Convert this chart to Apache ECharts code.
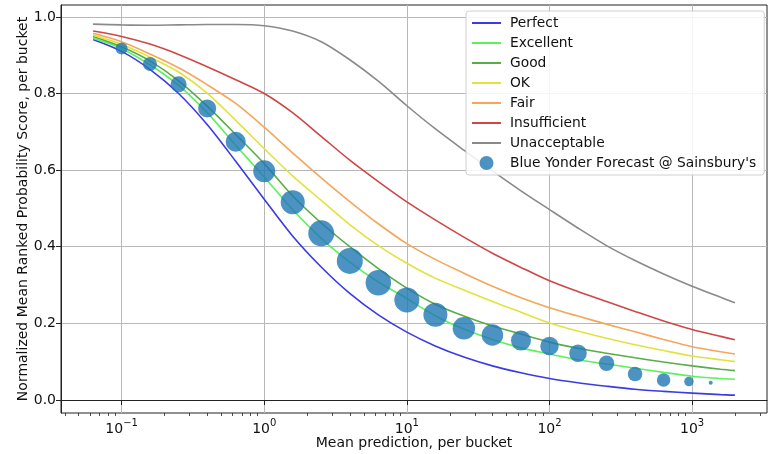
<!DOCTYPE html>
<html>
<head>
<meta charset="utf-8">
<script src="https://cdn.jsdelivr.net/npm/echarts@6/dist/echarts.min.js"></script>
<style>
html,body{margin:0;padding:0;background:#fff;}
#chart{width:772px;height:454px;}
</style>
</head>
<body>
<div id="chart"></div>
<script>
// Mean prediction grid (x) for the reference curves
const curveX = [0.0631, 0.1, 0.158, 0.251, 0.398, 0.631, 1, 1.58, 2.51, 3.98, 6.31, 10, 15.8, 25.1, 39.8, 63.1, 100, 158, 251, 398, 631, 1000, 1585, 1995];
const perfect      = [0.941, 0.910, 0.863, 0.800, 0.719, 0.623, 0.524, 0.428, 0.347, 0.278, 0.222, 0.177, 0.141, 0.112, 0.089, 0.071, 0.056, 0.045, 0.036, 0.028, 0.0225, 0.018, 0.014, 0.0126];
const excellent    = [0.944, 0.917, 0.875, 0.821, 0.750, 0.665, 0.582, 0.497, 0.422, 0.360, 0.308, 0.265, 0.220, 0.185, 0.158, 0.136, 0.120, 0.105, 0.094, 0.083, 0.072, 0.062, 0.056, 0.054];
const good         = [0.949, 0.922, 0.885, 0.833, 0.767, 0.693, 0.617, 0.533, 0.462, 0.400, 0.343, 0.292, 0.250, 0.219, 0.193, 0.172, 0.151, 0.135, 0.122, 0.110, 0.099, 0.089, 0.080, 0.0765];
const ok           = [0.953, 0.928, 0.895, 0.856, 0.801, 0.730, 0.656, 0.585, 0.521, 0.458, 0.403, 0.357, 0.318, 0.287, 0.257, 0.229, 0.201, 0.180, 0.161, 0.144, 0.129, 0.115, 0.105, 0.100];
const fair         = [0.957, 0.935, 0.903, 0.867, 0.823, 0.774, 0.712, 0.645, 0.580, 0.518, 0.460, 0.408, 0.367, 0.331, 0.297, 0.267, 0.241, 0.219, 0.198, 0.178, 0.158, 0.139, 0.126, 0.120];
const insufficient = [0.963, 0.949, 0.929, 0.902, 0.870, 0.836, 0.800, 0.750, 0.688, 0.626, 0.570, 0.517, 0.470, 0.425, 0.383, 0.346, 0.311, 0.283, 0.257, 0.231, 0.206, 0.184, 0.166, 0.157];
const unacceptable = [0.981, 0.979, 0.978, 0.979, 0.980, 0.980, 0.977, 0.963, 0.935, 0.888, 0.832, 0.768, 0.708, 0.652, 0.598, 0.546, 0.497, 0.449, 0.403, 0.364, 0.329, 0.297, 0.268, 0.254];

// Forecast buckets
const bucketX    = [0.1, 0.158, 0.251, 0.398, 0.631, 1.0, 1.585, 2.512, 3.981, 6.31, 10, 15.85, 25.12, 39.81, 63.1, 100, 158.5, 251.2, 398.1, 631, 950, 1350];
const bucketY    = [0.9175, 0.877, 0.824, 0.761, 0.674, 0.597, 0.516, 0.435, 0.363, 0.306, 0.261, 0.2226, 0.187, 0.1696, 0.155, 0.141, 0.122, 0.0957, 0.0678, 0.052, 0.048, 0.045];
const bucketSize = [12, 14, 16, 18, 20, 22, 24, 26, 26, 25.5, 25, 24, 22.5, 21.5, 20, 18.5, 17.5, 15.5, 14.5, 13.5, 9.5, 4];

// Tick values
const xMajorTicks = [0.1, 1, 10, 100, 1000];
const xMinorTicks = [0.04, 0.05, 0.06, 0.07, 0.08, 0.09, 0.2, 0.3, 0.4, 0.5, 0.6, 0.7, 0.8, 0.9, 2, 3, 4, 5, 6, 7, 8, 9, 20, 30, 40, 50, 60, 70, 80, 90, 200, 300, 400, 500, 600, 700, 800, 900, 2000, 3000];
const yTicks = [0, 0.2, 0.4, 0.6, 0.8, 1.0];

const curveNames  = ['Perfect', 'Excellent', 'Good', 'OK', 'Fair', 'Insufficient', 'Unacceptable'];
const curveData   = [perfect, excellent, good, ok, fair, insufficient, unacceptable];
const curveColors = ['#3a3ae6', '#5cf25c', '#58ad46', '#e2e23e', '#f5a65a', '#cf4646', '#8a8a8a'];
const scatterName = "Blue Yonder Forecast @ Sainsbury's";

const FONT = 'DejaVu Sans';
const FS = 14;
const chart = echarts.init(document.getElementById('chart'), null, {renderer: 'canvas'});

const series = curveNames.map((n, i) => ({
  name: n, type: 'line', xAxisIndex: 0,
  data: curveX.map((x, j) => [x, curveData[i][j]]),
  symbol: 'none', smooth: 0.3,
  lineStyle: {color: curveColors[i], width: 1.6},
  itemStyle: {color: curveColors[i]},
  z: 2
}));
series.push({
  name: scatterName, type: 'scatter', xAxisIndex: 0,
  data: bucketX.map((x, j) => [x, bucketY[j], bucketSize[j]]),
  symbolSize: d => d[2],
  itemStyle: {color: '#1f77b4', opacity: 0.8},
  z: 3
});

function powLabel(v) {
  const e = Math.round(Math.log10(v));
  const s = String(e).replace('-', '\u2212');
  return '{b|10}{s|' + s + '}';
}

const legendData = curveNames.map(n => ({name: n, itemStyle: {color: 'rgba(0,0,0,0)', borderWidth: 0, opacity: 0}}));
legendData.push({name: scatterName, icon: 'circle', itemStyle: {color: '#1f77b4', opacity: 0.8}});

chart.setOption({
  animation: false,
  backgroundColor: '#fff',
  textStyle: {fontFamily: FONT},
  grid: {left: 61, right: 5, top: 5, bottom: 41, outerBoundsMode: 'none', containLabel: false,
         show: true, borderColor: '#222', borderWidth: 1, backgroundColor: 'transparent'},
  legend: {
    orient: 'vertical', left: 466, top: 11,
    itemWidth: 29, itemHeight: 14, itemGap: 6,
    padding: [5, 8, 5, 5],
    backgroundColor: 'rgba(255,255,255,0.85)',
    borderColor: '#d0d0d0', borderWidth: 1, borderRadius: 3,
    textStyle: {fontFamily: FONT, fontSize: 13.8, color: '#111', padding: [0, 0, 0, 4]},
    data: legendData
  },
  xAxis: [{
    type: 'log', logBase: 10, min: 0.0376, max: 3350,
    name: 'Mean prediction, per bucket', nameLocation: 'middle', nameGap: 23, nameMoveOverlap: false,
    nameTextStyle: {fontFamily: FONT, fontSize: FS, color: '#111'},
    axisLine: {show: true, lineStyle: {color: '#222', width: 1}},
    axisTick: {show: true, length: 5, customValues: xMajorTicks, lineStyle: {color: '#222', width: 1}},
    axisLabel: {customValues: xMajorTicks, margin: 5, formatter: powLabel,
      rich: {b: {fontFamily: FONT, fontSize: FS, color: '#111', lineHeight: 18, verticalAlign: 'bottom'},
             s: {fontFamily: FONT, fontSize: 10, color: '#111', lineHeight: 11, verticalAlign: 'top'}}},
    splitLine: {show: true, lineStyle: {color: '#b8b8b8', width: 1}}
  }, {
    type: 'log', logBase: 10, min: 0.0376, max: 3350, position: 'bottom', gridIndex: 0,
    axisLine: {show: false},
    axisTick: {show: true, length: 3, customValues: xMinorTicks, lineStyle: {color: '#222', width: 0.8}},
    axisLabel: {show: false},
    splitLine: {show: false}
  }],
  yAxis: {
    type: 'value', min: -0.034, max: 1.031,
    name: 'Normalized Mean Ranked Probability Score, per bucket', nameLocation: 'middle', nameGap: 31, nameMoveOverlap: false,
    nameTextStyle: {fontFamily: FONT, fontSize: FS, color: '#111'},
    axisLine: {show: true, lineStyle: {color: '#222', width: 1}},
    axisTick: {show: true, length: 5, customValues: yTicks, lineStyle: {color: '#222', width: 1}},
    axisLabel: {customValues: yTicks, margin: 5, fontFamily: FONT, fontSize: FS, color: '#111', formatter: v => v.toFixed(1)},
    splitLine: {show: true, lineStyle: {color: '#b8b8b8', width: 1}}
  },
  series: series
});
</script>
</body>
</html>
